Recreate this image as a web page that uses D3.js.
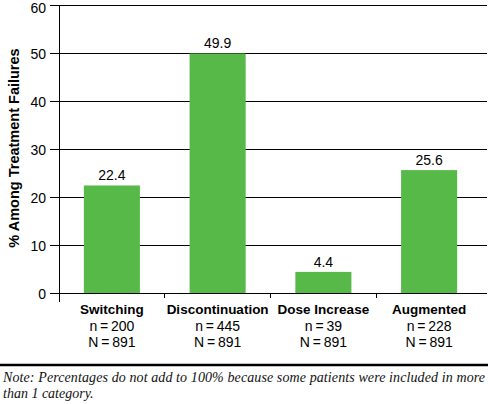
<!DOCTYPE html>
<html><head><meta charset="utf-8">
<script src="https://cdn.jsdelivr.net/npm/d3@7"></script>
<style>body{margin:0;background:#fff}svg{display:block}</style>
</head><body>
<svg id="c" width="488" height="404"></svg>
<script>
const categories = ["Switching","Discontinuation","Dose Increase","Augmented"];
const values = [22.4, 49.9, 4.4, 25.6];
const nLabels = ["n\u2009=\u2009200","n\u2009=\u2009445","n\u2009=\u200939","n\u2009=\u2009228"];
const NLabels = ["N\u2009=\u2009891","N\u2009=\u2009891","N\u2009=\u2009891","N\u2009=\u2009891"];
const yTicks = [0,10,20,30,40,50,60];
const yTitle = "% Among Treatment Failures";
const note = ["Note: Percentages do not add to 100% because some patients were included in more","than 1 category."];

const svg = d3.select("#c");
const font = "Liberation Sans, Arial, sans-serif";
const x = d3.scaleBand().domain(categories).range([59, 482]).paddingInner(0.47).paddingOuter(0.235);
const y = d3.scaleLinear().domain([0,60]).range([293,5]);

// gridlines
svg.append("g").selectAll("line").data(yTicks).join("line")
  .attr("x1",50).attr("x2",487).attr("y1",d=>y(d)).attr("y2",d=>y(d))
  .attr("stroke","#000").attr("stroke-width",1).attr("shape-rendering","crispEdges");
// y axis line
svg.append("line").attr("x1",59).attr("x2",59).attr("y1",y(60)).attr("y2",302)
  .attr("stroke","#000").attr("shape-rendering","crispEdges");
// y tick labels
svg.append("g").selectAll("text").data(yTicks).join("text")
  .attr("x",46).attr("y",d=>Math.max(y(d)+5.5, 12.5)).attr("text-anchor","end")
  .attr("font-family",font).attr("font-size",14).text(d=>d);
// category dividers
const dividers = categories.slice(1).map(c => x(c) - x.step()*x.paddingInner()/2);
svg.append("g").selectAll("line").data(dividers).join("line")
  .attr("x1",d=>d).attr("x2",d=>d).attr("y1",293).attr("y2",298)
  .attr("stroke","#000").attr("shape-rendering","crispEdges");
// bars
svg.append("g").selectAll("rect").data(values).join("rect")
  .attr("x",(d,i)=>x(categories[i])).attr("width",x.bandwidth())
  .attr("y",d=>y(d)).attr("height",d=>y(0)-y(d)).attr("fill","#57b947");
// value labels
svg.append("g").selectAll("text").data(values).join("text")
  .attr("x",(d,i)=>x(categories[i])+x.bandwidth()/2).attr("y",d=>y(d)-5)
  .attr("text-anchor","middle").attr("font-family",font).attr("font-size",14)
  .text(d=>d.toFixed(1));
// category labels
const cat = svg.append("g").selectAll("g").data(categories).join("g")
  .attr("transform",d=>`translate(${x(d)+x.bandwidth()/2},0)`);
cat.append("text").attr("y",314).attr("text-anchor","middle").attr("font-family",font)
  .attr("font-size",13.5).attr("font-weight","bold").text(d=>d);
cat.append("text").attr("y",331).attr("text-anchor","middle").attr("font-family",font)
  .attr("font-size",14).text((d,i)=>nLabels[i]);
cat.append("text").attr("y",347).attr("text-anchor","middle").attr("font-family",font)
  .attr("font-size",14).text((d,i)=>NLabels[i]);
// y title
svg.append("text").attr("transform","translate(19,148) rotate(-90)")
  .attr("text-anchor","middle").attr("font-family",font).attr("font-size",14.5)
  .attr("font-weight","bold").text(yTitle);
// rule
svg.append("line").attr("x1",0).attr("x2",488).attr("y1",365).attr("y2",365)
  .attr("stroke","#000").attr("stroke-width",2.5);
// note
const noteT = svg.append("g").selectAll("text").data(note).join("text")
  .attr("x",3).attr("y",(d,i)=>382+i*16)
  .attr("font-family","Liberation Serif, Times New Roman, serif").attr("font-style","italic")
  .attr("font-size",14).attr("fill","#111").text(d=>d);
noteT.filter((d,i)=>i===0).attr("textLength",482).attr("lengthAdjust","spacing");
</script>
</body></html>
